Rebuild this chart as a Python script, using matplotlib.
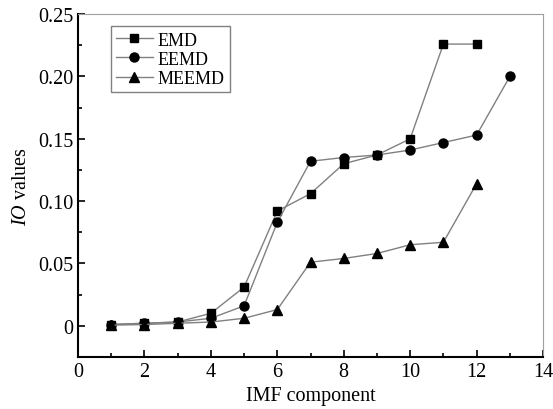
import matplotlib
matplotlib.use('Agg')
import matplotlib.pyplot as plt
from matplotlib.ticker import MultipleLocator, FixedFormatter, FixedLocator

plt.rcParams['font.family'] = ['Liberation Serif', 'DejaVu Serif']
plt.rcParams['mathtext.fontset'] = 'custom'
plt.rcParams['mathtext.it'] = 'Liberation Serif:italic'
plt.rcParams['mathtext.rm'] = 'Liberation Serif'

emd_x = [1, 2, 3, 4, 5, 6, 7, 8, 9, 10, 11, 12]
emd_y = [0.001, 0.002, 0.003, 0.010, 0.031, 0.092, 0.106, 0.130, 0.137, 0.150, 0.226, 0.226]

eemd_x = [1, 2, 3, 4, 5, 6, 7, 8, 9, 10, 11, 12, 13]
eemd_y = [0.001, 0.002, 0.003, 0.006, 0.016, 0.083, 0.132, 0.135, 0.137, 0.141, 0.147, 0.153, 0.200]

meemd_x = [1, 2, 3, 4, 5, 6, 7, 8, 9, 10, 11, 12]
meemd_y = [0.0005, 0.001, 0.002, 0.003, 0.006, 0.013, 0.051, 0.054, 0.058, 0.065, 0.067, 0.114]

yticks = [0, 0.05, 0.10, 0.15, 0.20, 0.25]
ytick_labels = ['0', '0.05', '0.10', '0.15', '0.20', '0.25']

fig = plt.figure(figsize=(5.53, 4.10), dpi=100)
ax = fig.add_axes([0.141, 0.127, 0.841, 0.836])

line_col = '#808080'
ax.plot(emd_x, emd_y, color=line_col, lw=1, marker='s', ms=6,
        mfc='black', mec='black', label='EMD')
ax.plot(eemd_x, eemd_y, color=line_col, lw=1, marker='o', ms=6.5,
        mfc='black', mec='black', label='EEMD')
ax.plot(meemd_x, meemd_y, color=line_col, lw=1, marker='^', ms=7,
        mfc='black', mec='black', label='MEEMD')

ax.set_xlim(0, 14)
ax.set_ylim(-0.025, 0.25)
ax.xaxis.set_major_locator(MultipleLocator(2))
ax.xaxis.set_minor_locator(MultipleLocator(1))
ax.yaxis.set_major_locator(FixedLocator(yticks))
ax.yaxis.set_major_formatter(FixedFormatter(ytick_labels))
ax.yaxis.set_minor_locator(MultipleLocator(0.025))

ax.tick_params(which='both', direction='in', top=False, right=False,
               labelsize=14.5, width=1.2, colors='black')
ax.tick_params(which='major', length=5)
ax.tick_params(which='minor', length=3)

ax.spines['left'].set_linewidth(1.5)
ax.spines['bottom'].set_linewidth(1.5)
ax.spines['top'].set_color('#a0a0a0')
ax.spines['right'].set_color('#a0a0a0')

ax.set_xlabel('IMF component', fontsize=14.5, labelpad=4)
ax.set_ylabel(r'$IO$ values', fontsize=14.5, labelpad=5)

leg = ax.legend(loc='upper left', bbox_to_anchor=(0.071, 0.965), fontsize=13,
                fancybox=False, edgecolor='#808080', framealpha=1,
                handlelength=2.0, handletextpad=0.3, labelspacing=0.12,
                borderpad=0.3, borderaxespad=0)
leg.get_frame().set_linewidth(1)

fig.savefig('out.png', dpi=100)
